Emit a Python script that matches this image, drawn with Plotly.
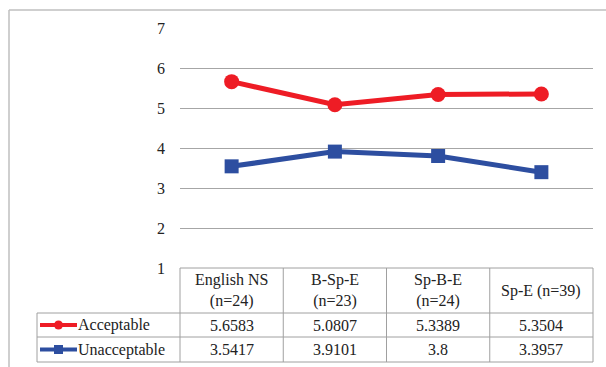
import plotly.graph_objects as go

categories = ["English NS<br>(n=24)", "B-Sp-E<br>(n=23)", "Sp-B-E<br>(n=24)", "Sp-E (n=39)"]
series_names = ["Acceptable", "Unacceptable"]
acceptable = [5.6583, 5.0807, 5.3389, 5.3504]
unacceptable = [3.5417, 3.9101, 3.8, 3.3957]
y_ticks = [1, 2, 3, 4, 5, 6, 7]

W, H = 606, 367
RED = "#EE1C25"
BLUE = "#2D4EA0"
FONT = "Liberation Serif, Times New Roman, serif"
GRID = "#A6A6A6"
BORDER = "#A0A0A0"

def px(x):
    return x / W

def py(y):
    return 1 - y / H

# geometry (pixels)
plot_left, plot_right = 180, 593
plot_top, plot_bottom = 28, 268
table_rows = [268, 313, 337, 362]
legend_left = 37

fig = go.Figure()

fig.add_trace(go.Scatter(
    x=list(range(len(categories))), y=acceptable, mode="lines+markers",
    name=series_names[0], line=dict(color=RED, width=5),
    marker=dict(symbol="circle", size=15, color=RED), showlegend=False,
))
fig.add_trace(go.Scatter(
    x=list(range(len(categories))), y=unacceptable, mode="lines+markers",
    name=series_names[1], line=dict(color=BLUE, width=5),
    marker=dict(symbol="square", size=14, color=BLUE), showlegend=False,
))

shapes = []
# outer frame (top and left edges only, the rest runs off the picture)
shapes.append(dict(type="line", xref="paper", yref="paper",
                   x0=px(9), x1=1, y0=py(10), y1=py(10),
                   line=dict(color="#BFBFBF", width=1.5), layer="below"))
shapes.append(dict(type="line", xref="paper", yref="paper",
                   x0=px(9), x1=px(9), y0=py(10), y1=0,
                   line=dict(color="#BFBFBF", width=1.5), layer="below"))

n = len(categories)
col_w = (plot_right - plot_left) / n
col_edges = [plot_left + i * col_w for i in range(n + 1)]

# table horizontal lines
shapes.append(dict(type="line", xref="paper", yref="paper",
                   x0=px(plot_left), x1=px(plot_right), y0=py(table_rows[0]), y1=py(table_rows[0]),
                   line=dict(color=BORDER, width=1)))
for r in table_rows[1:]:
    shapes.append(dict(type="line", xref="paper", yref="paper",
                       x0=px(legend_left), x1=px(plot_right), y0=py(r), y1=py(r),
                       line=dict(color=BORDER, width=1)))
# vertical lines
for i, xe in enumerate(col_edges):
    shapes.append(dict(type="line", xref="paper", yref="paper",
                       x0=px(xe), x1=px(xe), y0=py(table_rows[0]), y1=py(table_rows[-1]),
                       line=dict(color=BORDER, width=1)))
shapes.append(dict(type="line", xref="paper", yref="paper",
                   x0=px(legend_left), x1=px(legend_left), y0=py(table_rows[1]), y1=py(table_rows[-1]),
                   line=dict(color=BORDER, width=1)))

annotations = []
# header
for i, c in enumerate(categories):
    cx = (col_edges[i] + col_edges[i + 1]) / 2
    cy = (table_rows[0] + table_rows[1]) / 2
    annotations.append(dict(x=px(cx), y=py(cy), xref="paper", yref="paper", text=c,
                            showarrow=False, xanchor="center", yanchor="middle",
                            font=dict(family=FONT, size=16, color="#222")))

colors = [RED, BLUE]
symbols = ["circle", "square"]
for ri, (name, vals) in enumerate(zip(series_names, [acceptable, unacceptable])):
    cy = (table_rows[ri + 1] + table_rows[ri + 2]) / 2
    for i, v in enumerate(vals):
        cx = (col_edges[i] + col_edges[i + 1]) / 2
        annotations.append(dict(x=px(cx), y=py(cy), xref="paper", yref="paper", text=str(v),
                                showarrow=False, xanchor="center", yanchor="middle",
                                font=dict(family=FONT, size=16, color="#222")))
    annotations.append(dict(x=px(78), y=py(cy), xref="paper", yref="paper", text=name,
                            showarrow=False, xanchor="left", yanchor="middle", xshift=-2,
                            font=dict(family=FONT, size=16, color="#222")))
    # legend key
    shapes.append(dict(type="line", xref="paper", yref="paper",
                       x0=px(40), x1=px(77), y0=py(cy), y1=py(cy),
                       line=dict(color=colors[ri], width=4)))
    if symbols[ri] == "circle":
        shapes.append(dict(type="circle", xref="paper", yref="paper",
                           x0=px(54), x1=px(63), y0=py(cy + 4.5), y1=py(cy - 4.5),
                           fillcolor=colors[ri], line=dict(width=0)))
    else:
        shapes.append(dict(type="rect", xref="paper", yref="paper",
                           x0=px(54), x1=px(63), y0=py(cy + 4.5), y1=py(cy - 4.5),
                           fillcolor=colors[ri], line=dict(width=0)))

fig.update_layout(
    width=W, height=H, margin=dict(l=0, r=0, t=0, b=0, autoexpand=False),
    paper_bgcolor="white", plot_bgcolor="white",
    shapes=shapes, annotations=annotations,
    xaxis=dict(domain=[px(plot_left), px(plot_right)], range=[-0.5, n - 0.5], automargin=False,
               showgrid=False, zeroline=False, showticklabels=False, showline=False),
    yaxis=dict(domain=[py(plot_bottom), py(plot_top)], range=[1, 7], tickvals=y_ticks,
               automargin=False,
               showgrid=True, gridcolor=GRID, gridwidth=1, zeroline=False, showline=False,
               ticklabelstandoff=14,
               tickfont=dict(family=FONT, size=16, color="#222")),
)

post = (
    "var d=document.getElementById('{plot_id}');"
    "document.documentElement.style.margin='0';document.documentElement.style.padding='0';"
    "document.body.style.margin='0';document.body.style.padding='0';"
    "document.documentElement.style.overflow='hidden';document.body.style.overflow='hidden';"
    "d.style.position='fixed';d.style.left='0px';d.style.top='0px';"
)

fig.write_html("out.html", config={"displayModeBar": False, "staticPlot": True}, post_script=post)
